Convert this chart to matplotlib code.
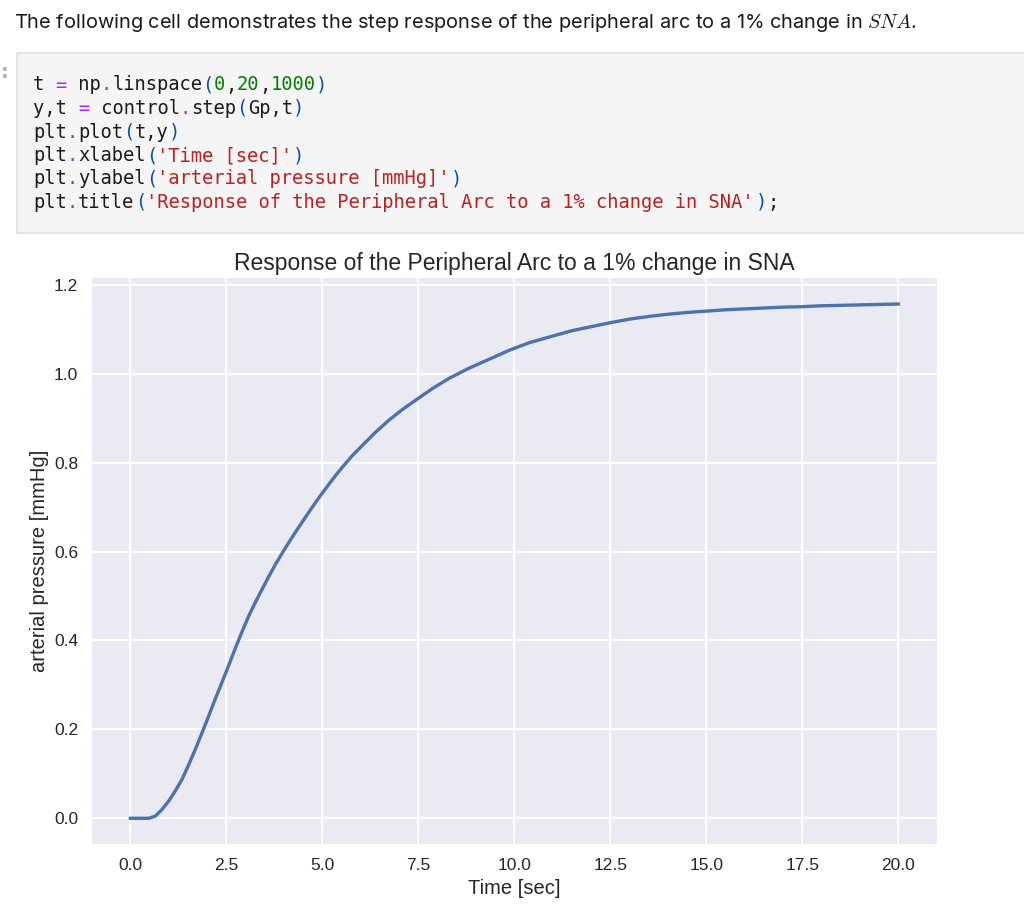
import matplotlib
matplotlib.use("Agg")
import matplotlib.pyplot as plt
from matplotlib.patches import Rectangle

# step response
t = [0.0, 0.25, 0.477, 0.651, 0.825, 0.999, 1.173, 1.347, 1.521, 1.695,
     1.869, 2.043, 2.217, 2.391, 2.565, 2.739, 2.913, 3.087, 3.261, 3.435,
     3.61, 3.783, 3.957, 4.13, 4.30, 4.478, 4.65, 4.826, 5.0, 5.174, 5.35,
     5.522, 5.78, 6.044, 6.39, 6.739, 7.09, 7.435, 7.87, 8.305, 8.83, 9.35,
     9.87, 10.39, 11.0, 11.5, 12.0, 12.5, 13.0, 13.5, 14.0, 14.5, 15.0,
     15.5, 16.0, 16.5, 17.0, 17.5, 18.0, 18.5, 19.0, 19.5, 20.0]
y = [0.0, 0.0, 0.0, 0.005, 0.020, 0.039, 0.062, 0.088, 0.121, 0.156,
     0.193, 0.231, 0.270, 0.307, 0.345, 0.384, 0.421, 0.456, 0.487, 0.516,
     0.545, 0.572, 0.597, 0.621, 0.644, 0.667, 0.689, 0.711, 0.732, 0.752,
     0.772, 0.790, 0.816, 0.839, 0.869, 0.896, 0.920, 0.941, 0.967, 0.990,
     1.013, 1.033, 1.053, 1.070, 1.085, 1.097, 1.106, 1.115, 1.123, 1.129,
     1.134, 1.138, 1.141, 1.144, 1.146, 1.148, 1.150, 1.151, 1.153, 1.154,
     1.155, 1.156, 1.157]

intro = "The following cell demonstrates the step response of the peripheral arc to a 1% change in $SNA$."
code_lines = [
    "t = np.linspace(0,20,1000)",
    "y,t = control.step(Gp,t)",
    "plt.plot(t,y)",
    "plt.xlabel('Time [sec]')",
    "plt.ylabel('arterial pressure [mmHg]')",
    "plt.title('Response of the Peripheral Arc to a 1% change in SNA');",
]
title = "Response of the Peripheral Arc to a 1% change in SNA"
xlabel = "Time [sec]"
ylabel = "arterial pressure [mmHg]"

W, H = 1024, 919
plt.rcParams['mathtext.fontset'] = 'cm'
fig = plt.figure(figsize=(W / 100, H / 100), dpi=100)


def fx(px):
    return px / W


def fy(py):
    return 1 - py / H


# markdown line
fig.text(fx(14), fy(28.5), intro, fontsize=14.4, family='Inter',
         color='#1a1a1a', va='baseline', ha='left')

# code cell
fig.patches.append(Rectangle((fx(16.5), fy(233)), fx(1040 - 16.5), (233 - 53) / H,
                             transform=fig.transFigure, facecolor='#f5f5f5',
                             edgecolor='#e0e0e0', linewidth=1.2))
fig.text(fx(1), fy(78), ":", fontsize=14, color='#b0b0b0', weight='bold',
         va='baseline', ha='left')


def char_color(ch, in_str):
    if in_str:
        return '#ba2121'
    if ch in '=.':
        return '#aa22ff'
    if ch.isdigit():
        return '#008000'
    if ch in '()':
        return '#0055aa'
    return '#1a1a1a'


char_w = 11.3
code_size = char_w / 0.602 * 0.72
for i, line in enumerate(code_lines):
    base = 90.5 + i * 23.5
    runs = []
    in_str = False
    for ch in line:
        if ch == "'":
            c = '#ba2121'
            in_str = not in_str
        else:
            c = char_color(ch, in_str)
        if runs and runs[-1][1] == c:
            runs[-1][0] += ch
        else:
            runs.append([ch, c])
    col = 0
    for txt, c in runs:
        fig.text(fx(33 + col * char_w), fy(base), txt, family='DejaVu Sans Mono',
                 fontsize=code_size, color=c, va='baseline', ha='left')
        col += len(txt)

# chart
ax = fig.add_axes([fx(92), fy(844), (936.7 - 92) / W, (844 - 278.3) / H])
ax.set_facecolor('#eaeaf2')
for s in ax.spines.values():
    s.set_visible(False)
ax.grid(True, color='white', linewidth=1.5)
ax.set_axisbelow(True)
ax.plot(t, y, color='#4c72b0', linewidth=2.4, solid_joinstyle='round')
ax.tick_params(length=0, pad=10, labelsize=12.5, labelcolor='#262626')
for lab in ax.get_xticklabels() + ax.get_yticklabels():
    lab.set_family('Liberation Sans')
ax.set_title(title, fontsize=16.5, family='Liberation Sans', color='#262626', pad=6.3)
ax.set_xlabel(xlabel, fontsize=14.5, family='Liberation Sans', color='#262626')
ax.set_ylabel(ylabel, fontsize=14.5, family='Liberation Sans', color='#262626')
ax.xaxis.set_label_coords(0.5, -0.062)
ax.yaxis.set_label_coords(-0.051, 0.5)

fig.savefig("out.png", dpi=100)
